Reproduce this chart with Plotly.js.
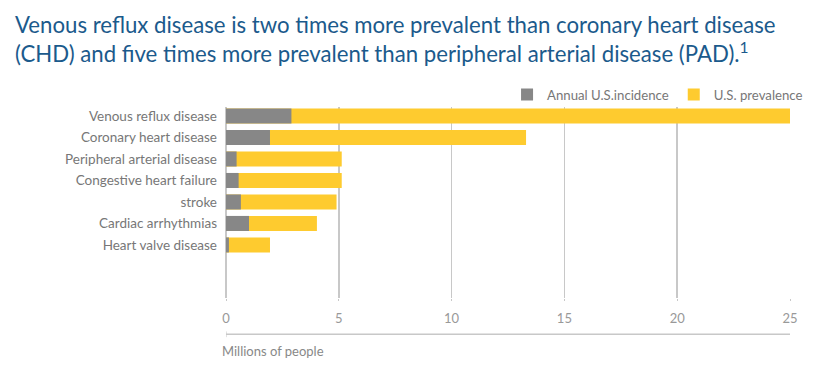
<!DOCTYPE html>
<html>
<head>
<meta charset="utf-8">
<script src="https://cdn.plot.ly/plotly-3.0.1.min.js"></script>
<style>html,body{margin:0;padding:0;background:#fff;}#chart{width:823px;height:367px;}</style>
</head>
<body>
<div id="chart"></div>
<script>
const categories = ["Venous reflux disease","Coronary heart disease","Peripheral arterial disease","Congestive heart failure","stroke","Cardiac arrhythmias","Heart valve disease"];
const incidence = [2.9, 1.95, 0.47, 0.56, 0.66, 1.02, 0.13];
const prevalence = [25, 13.3, 5.13, 5.13, 4.9, 4.03, 1.95];
const xTicks = [0, 5, 10, 15, 20, 25];
const titleText = "Venous reflux disease is two times more prevalent than coronary heart disease<br>(CHD) and five times more prevalent than peripheral arterial disease (PAD).<sup>1</sup>";

const FONT = "Lato, 'Noto Sans', sans-serif";
const traces = [
  {type:"bar", orientation:"h", name:"U.S. prevalence", y:categories, x:prevalence,
   marker:{color:"#FECB2F"}, width:0.7, hoverinfo:"x+y"},
  {type:"bar", orientation:"h", name:"Annual U.S.incidence", y:categories, x:incidence,
   marker:{color:"#878787"}, width:0.7, hoverinfo:"x+y"}
];
const layout = {
  width:823, height:367,
  margin:{l:226, r:33, t:107, b:69},
  paper_bgcolor:"#fff", plot_bgcolor:"#fff",
  barmode:"overlay",
  font:{family:FONT, color:"#777"},
  xaxis:{range:[0,25], tickvals:xTicks, ticktext:xTicks.map(String), showgrid:true, gridcolor:"#c8c8c8", gridwidth:1.5,
    zeroline:true, zerolinecolor:"#c8c8c8", zerolinewidth:1.5, showline:false,
    ticks:"outside", ticklen:2, tickcolor:"#c8c8c8", ticklabelstandoff:6,
    tickfont:{size:13, color:"#999"}, fixedrange:true},
  yaxis:{type:"category", categoryorder:"array", categoryarray:categories, range:[8.47,-0.42],
    showgrid:false, zeroline:false, showline:false, ticks:"", ticklabelstandoff:8,
    tickfont:{size:13.5, color:"#777"}, fixedrange:true},
  legend:{orientation:"h", traceorder:"reversed", x:1.032, xanchor:"right", y:1.063, yanchor:"middle",
    font:{size:13.2, color:"#777"}, bgcolor:"rgba(0,0,0,0)", itemwidth:30},
  shapes:[
    {type:"line", xref:"x", yref:"paper", x0:0, x1:25, y0:-0.19, y1:-0.19, line:{color:"#c8c8c8", width:1.5}},
    {type:"line", xref:"x", yref:"paper", x0:0, x1:0, y0:-0.175, y1:-0.205, line:{color:"#c8c8c8", width:1}}
  ],
  annotations:[
    {text:titleText, xref:"paper", yref:"paper", x:-0.378, y:1.515, xanchor:"left", yanchor:"top", align:"left",
     showarrow:false, font:{family:FONT, size:22.2, color:"#1B5A8C"}},
    {text:"Millions of people", xref:"paper", yref:"paper", x:-0.01, y:-0.225, xanchor:"left", yanchor:"top",
     showarrow:false, font:{size:13, color:"#888"}}
  ]
};
Plotly.newPlot("chart", traces, layout, {displayModeBar:false, staticPlot:true});
</script>
</body>
</html>
